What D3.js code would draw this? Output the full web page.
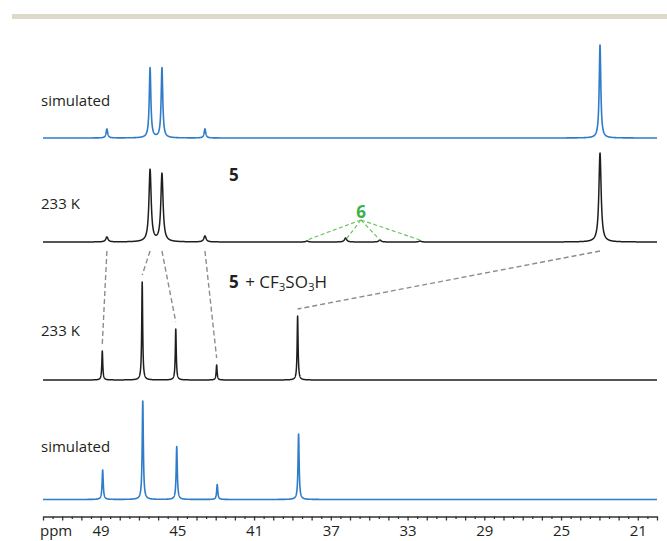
<!DOCTYPE html>
<html>
<head>
<meta charset="utf-8">
<script src="https://cdn.jsdelivr.net/npm/d3@7"></script>
<style>
  html, body { margin: 0; padding: 0; background: #fff; }
  svg { display: block; }
  text { font-family: "Open Sans", "DejaVu Sans", sans-serif; fill: #231f20; }
</style>
</head>
<body>
<svg id="chart" width="667" height="541"></svg>
<script>
// ---------------- data ----------------
const axisTickLabels = [49, 45, 41, 37, 33, 29, 25, 21];

// top: simulated spectrum of 5
const simTopPpm = [48.67, 46.42, 45.80, 43.56, 22.97];
const simTopInt = [9, 70, 70, 9, 93];

// 233 K experimental spectrum of 5 (with minor species 6)
const exp5Ppm = [48.67, 46.42, 45.80, 43.56, 38.24, 36.23, 34.44, 32.35, 22.97];
const exp5Int = [5, 72, 68, 6, 1, 4, 2, 1, 89];

// 233 K spectrum of 5 + CF3SO3H
const acidPpm = [48.91, 46.83, 45.08, 42.95, 38.73];
const acidInt = [29, 98, 51, 15, 64];

// bottom: simulated spectrum of 5 + CF3SO3H
const simBotPpm = [48.89, 46.80, 45.03, 42.92, 38.68];
const simBotInt = [29.5, 98.5, 53, 15, 65.5];

// correspondences drawn with grey dashes (peak index in exp5 -> peak index in acid)
const linkFrom = [0, 1, 2, 3, 8];
const linkTo   = [0, 1, 2, 3, 4];
// peaks of 6 in exp5
const species6 = [4, 5, 6, 7];

// ---------------- drawing ----------------
const svg = d3.select("#chart");
const BLUE = "#2f7cc8", BLACK = "#1e1e1e";

svg.append("rect").attr("x", 12).attr("y", 14).attr("width", 655).attr("height", 5)
   .attr("fill", "#dddac8");

const x = d3.scaleLinear().domain([52, 20]).range([43, 657]);

function panelScale(baseline) {
  return d3.scaleLinear().domain([0, 100]).range([baseline, baseline - 100]);
}

const grid = d3.range(52, 19.999, -0.004);

function spectrum(ppms, ints, hw) {
  const pts = grid.concat(ppms).sort((a, b) => b - a);
  return pts.map(p => {
    let s = 0;
    for (let i = 0; i < ppms.length; i++) {
      const u = (p - ppms[i]) / hw;
      s += ints[i] / (1 + u * u);
    }
    return [p, s];
  });
}

const panels = [
  { ppm: simTopPpm, int: simTopInt, base: 138, hw: 0.05, color: BLUE, sw: 1.6 },
  { ppm: exp5Ppm, int: exp5Int, base: 242, hw: 0.07, color: BLACK, sw: 1.5 },
  { ppm: acidPpm, int: acidInt, base: 380, hw: 0.03, color: BLACK, sw: 1.5 },
  { ppm: simBotPpm, int: simBotInt, base: 499.5, hw: 0.035, color: BLUE, sw: 1.6 }
];

panels.forEach(pn => {
  pn.y = panelScale(pn.base);
  const line = d3.line().x(d => x(d[0])).y(d => pn.y(d[1]));
  svg.append("path")
    .attr("d", line(spectrum(pn.ppm, pn.int, pn.hw)))
    .attr("fill", "none")
    .attr("stroke", pn.color)
    .attr("stroke-width", pn.sw)
    .attr("stroke-linejoin", "round");
});

// grey dashed correspondence lines
const p2 = panels[1], p3 = panels[2];
linkFrom.forEach((fi, k) => {
  const ti = linkTo[k];
  svg.append("line")
    .attr("x1", x(exp5Ppm[fi])).attr("y1", p2.y(0) + 9)
    .attr("x2", x(acidPpm[ti])).attr("y2", p3.y(acidInt[ti]) - 7)
    .attr("stroke", "#8c8c8c").attr("stroke-width", 1.4)
    .attr("stroke-dasharray", "5,3");
});

// green dashed lines to species 6
const GREEN = "#3daf4a";
species6.forEach(i => {
  svg.append("line")
    .attr("x1", 361).attr("y1", 220)
    .attr("x2", x(exp5Ppm[i])).attr("y2", p2.y(0) - 2)
    .attr("stroke", "#6cc461").attr("stroke-width", 1.2)
    .attr("stroke-dasharray", "4,2.5");
});
svg.append("text").attr("x", 361).attr("y", 218).attr("text-anchor", "middle")
   .style("font-size", "17px").style("font-weight", "700").style("fill", GREEN).text("6");

// labels
const fs = "15px";
svg.append("text").attr("x", 41).attr("y", 106).style("font-size", fs).text("simulated");
svg.append("text").attr("x", 41).attr("y", 209).style("font-size", fs).text("233 K");
svg.append("text").attr("x", 41).attr("y", 336).style("font-size", fs).text("233 K");
svg.append("text").attr("x", 41).attr("y", 452).style("font-size", fs).text("simulated");

svg.append("text").attr("x", 229).attr("y", 181)
   .style("font-size", "17px").style("font-weight", "700").text("5");

const t = svg.append("text").attr("x", 229).attr("y", 288).style("font-size", "17px");
t.append("tspan").style("font-weight", "700").text("5");
t.append("tspan").attr("dx", 2).text(" + CF");
t.append("tspan").attr("dy", 3).style("font-size", "11.5px").text("3");
t.append("tspan").attr("dy", -3).text("SO");
t.append("tspan").attr("dy", 3).style("font-size", "11.5px").text("3");
t.append("tspan").attr("dy", -3).text("H");

// axis
const axisY = 516.5;
const gMinor = svg.append("g").attr("transform", `translate(0,${axisY})`)
  .call(d3.axisBottom(x).tickValues(d3.range(20.5, 52, 1)).tickSize(2.5).tickSizeOuter(0).tickFormat(""));
const gMajor = svg.append("g").attr("transform", `translate(0,${axisY})`)
  .call(d3.axisBottom(x).tickValues(d3.range(20, 52.01, 1)).tickSize(4).tickSizeOuter(0).tickPadding(5)
        .tickFormat(d => axisTickLabels.includes(d) ? String(d) : ""));
[gMinor, gMajor].forEach(g => {
  g.selectAll("path, line").attr("stroke", "#333").attr("stroke-width", 1.3);
  g.selectAll("text").style("font-size", "15px").style("font-family", "'Open Sans', sans-serif").attr("fill", "#231f20");
});
gMinor.select(".domain").remove();

svg.append("text").attr("x", 40).attr("y", 536).style("font-size", "15px").text("ppm");
</script>
</body>
</html>
